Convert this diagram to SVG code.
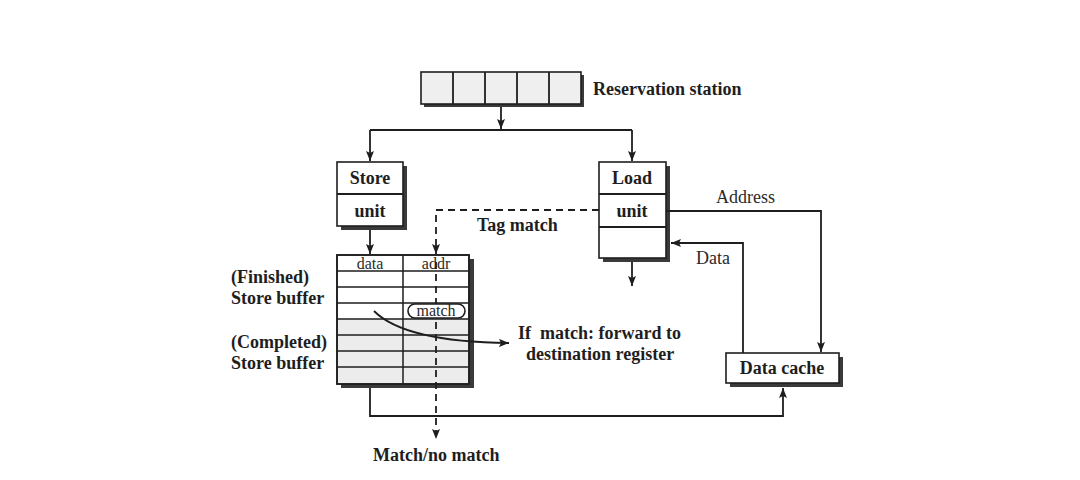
<svg xmlns="http://www.w3.org/2000/svg" width="1080" height="480" viewBox="0 0 1080 480">
<style>
.ln{fill:none;stroke:#1e1e1e;stroke-width:1.8}
.ds{stroke-dasharray:7,5}
.bx{fill:#fff;stroke:#1e1e1e;stroke-width:1.6}
.gr{fill:#efefef;stroke:#1e1e1e;stroke-width:1.6}
.sh{fill:#3a3a3a}
.b{font-family:"Liberation Serif",serif;font-weight:bold;font-size:18px;fill:#1e1e1e}
.r{font-family:"Liberation Serif",serif;font-size:18px;fill:#2a2a2a}
.c{text-anchor:middle}
</style>
<defs>
<marker id="ah" viewBox="0 0 10 8" refX="10" refY="4" markerWidth="10" markerHeight="8" markerUnits="userSpaceOnUse" orient="auto">
<path d="M0,0 L10,4 L0,8 L2,4 z" fill="#1e1e1e"/>
</marker>
</defs>
<rect width="1080" height="480" fill="#fff"/>

<g id="reservation-station">
<rect class="sh" x="424" y="75" width="160" height="32"/>
<rect class="gr" x="421" y="72" width="160" height="32"/>
<path class="ln" d="M453,72 V104 M485,72 V104 M517,72 V104 M549,72 V104"/>
<text class="b" x="593" y="95">Reservation station</text>
</g>

<g id="store-unit">
<rect class="sh" x="341" y="166" width="66" height="64"/>
<rect class="bx" x="337" y="162" width="66" height="64"/>
<path class="ln" d="M337,194 H403"/>
<text class="b c" x="370" y="184">Store</text>
<text class="b c" x="370" y="217">unit</text>
</g>

<g id="load-unit">
<rect class="sh" x="603" y="166" width="67" height="96"/>
<rect class="bx" x="599" y="162" width="67" height="96"/>
<path class="ln" d="M599,194 H666 M599,227 H666"/>
<text class="b c" x="632" y="184">Load</text>
<text class="b c" x="632" y="217">unit</text>
</g>

<g id="store-buffer">
<rect class="sh" x="341" y="259" width="133" height="129"/>
<rect class="bx" x="337" y="255" width="132" height="129"/>
<rect x="338" y="319" width="130" height="64" fill="#ececec"/>
<path class="ln" d="M337,271 H469 M337,287 H469 M337,303 H469 M337,319 H469 M337,335 H469 M337,351 H469 M337,367 H469 M403,255 V384" style="stroke-width:1.5"/>
<rect x="337" y="255" width="132" height="129" fill="none" stroke="#1e1e1e" stroke-width="1.6"/>
<text class="r c" x="370" y="269" style="font-size:16px">data</text>
<text class="r c" x="436" y="269" style="font-size:16px">addr</text>
<text class="b" x="231" y="283">(Finished)</text>
<text class="b" x="231" y="304">Store buffer</text>
<text class="b" x="231" y="348">(Completed)</text>
<text class="b" x="231" y="369">Store buffer</text>
</g>

<g id="data-cache">
<rect class="sh" x="730" y="357" width="113" height="30"/>
<rect class="bx" x="726" y="353" width="113" height="30"/>
<text class="b c" x="782" y="374">Data cache</text>
</g>

<g id="connectors">
<path class="ln" d="M501,107 V129" marker-end="url(#ah)"/>
<path class="ln" d="M370,130 H632"/>
<path class="ln" d="M370,130 V161" marker-end="url(#ah)"/>
<path class="ln" d="M632,130 V161" marker-end="url(#ah)"/>
<path class="ln" d="M370,230 V254" marker-end="url(#ah)"/>
<path class="ln ds" d="M599,210 H436 V254" marker-end="url(#ah)"/>
<path class="ln ds" d="M436,262 V439" marker-end="url(#ah)"/>
<path class="ln" d="M632,262 V286" marker-end="url(#ah)"/>
<path class="ln" d="M666,211 H821 V352" marker-end="url(#ah)"/>
<path class="ln" d="M743,353 V243 H671" marker-end="url(#ah)"/>
<path class="ln" d="M370,388 V416 H783 V388" marker-end="url(#ah)"/>
<path class="ln" d="M374,311 Q405,342 509,343" marker-end="url(#ah)"/>
</g>

<g id="match-tag">
<rect x="408" y="304" width="57" height="14" rx="7" ry="7" fill="#fff" stroke="#1e1e1e" stroke-width="1.6"/>
<text class="r c" x="436" y="316" style="font-size:16px">match</text>
</g>

<g id="labels">
<text class="b" x="477" y="231">Tag match</text>
<text class="r" x="716" y="203">Address</text>
<text class="r" x="696" y="264">Data</text>
<text class="b" x="518" y="339" style="white-space:pre">If  match: forward to</text>
<text class="b" x="526" y="360">destination register</text>
<text class="b" x="373" y="461">Match/no match</text>
</g>
</svg>
